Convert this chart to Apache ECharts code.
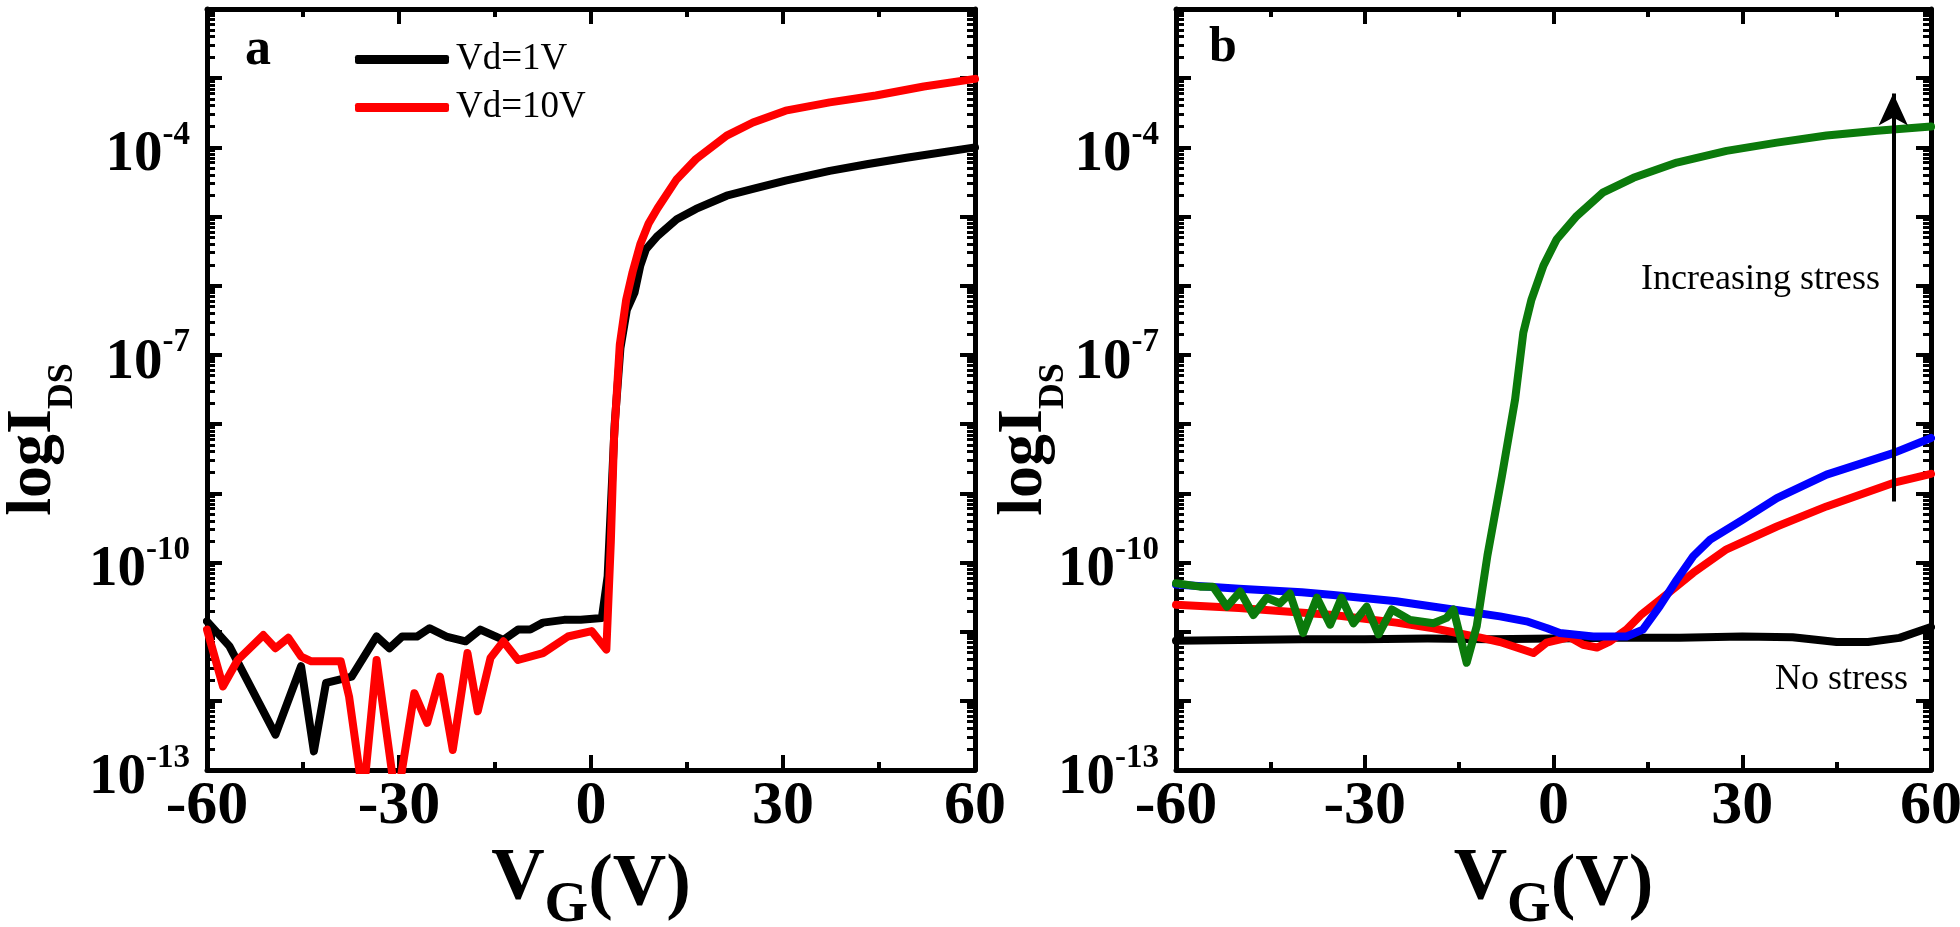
<!DOCTYPE html>
<html><head><meta charset="utf-8">
<script src="https://cdn.jsdelivr.net/npm/echarts@6.0.0/dist/echarts.min.js"></script>
<style>html,body{margin:0;padding:0;background:#fff}#c{width:1960px;height:927px}</style>
</head><body><div id="c"></div>
<script>
// ---------- tick labels ----------
const xTicks = [-60, -30, 0, 30, 60];
const yLabelExps = [-13, -10, -7, -4];

// ---------- panel a : transfer curves (V_G in V, I_DS in A) ----------
const aBlackV = [-60, -56.5, -49.3, -45.3, -43.3, -41.4, -37.4, -33.5, -31.5, -29.5, -27.2, -25.2, -22.6, -19.6, -17.3, -13.7, -11.4, -9.5, -7.5, -4.2, -1.6, 1.7, 2.6, 3.2, 3.7, 4.6, 5.6, 6.8, 7.7, 8.6, 10.4, 13.4, 16.4, 21.2, 25.3, 30.4, 37.3, 43.3, 49.3, 60];
const aBlackI = [1.41e-11, 6.17e-12, 3.24e-13, 3.16e-12, 1.86e-13, 1.82e-12, 2.24e-12, 8.51e-12, 5.75e-12, 8.51e-12, 8.5e-12, 1.12e-11, 8.5e-12, 7.24e-12, 1.07e-11, 7.59e-12, 1.07e-11, 1.07e-11, 1.35e-11, 1.48e-11, 1.48e-11, 1.58e-11, 6.3e-11, 1.0e-9, 1.0e-8, 1.26e-7, 4.47e-7, 7.94e-7, 1.95e-6, 3.39e-6, 5.25e-6, 9.12e-6, 1.29e-5, 2.0e-5, 2.51e-5, 3.31e-5, 4.57e-5, 5.75e-5, 7.08e-5, 1.0e-4];
const aRedV = [-60, -57.5, -55.2, -51.2, -49.3, -47.3, -45.3, -43.7, -39.1, -37.8, -35.6, -33.5, -30.4, -27.6, -25.6, -23.6, -21.6, -19.3, -17.7, -15.7, -13.7, -11.4, -7.5, -3.6, 0.1, 2.4, 3.1, 3.6, 4.5, 5.5, 6.5, 7.7, 9.0, 10.4, 13.4, 16.4, 21.2, 25.3, 30.4, 37.3, 44.5, 52, 60];
const aRedI = [1.07e-11, 1.62e-12, 3.89e-12, 8.91e-12, 5.75e-12, 8.13e-12, 4.37e-12, 3.72e-12, 3.72e-12, 1.15e-12, 3.98e-14, 3.89e-12, 3.16e-14, 1.29e-12, 4.79e-13, 2.24e-12, 1.95e-13, 4.9e-12, 7.08e-13, 4.17e-12, 7.24e-12, 3.89e-12, 4.9e-12, 8.51e-12, 1.02e-11, 5.5e-12, 2.0e-10, 6.3e-9, 1.41e-7, 6.31e-7, 1.58e-6, 3.98e-6, 7.94e-6, 1.32e-5, 3.47e-5, 6.76e-5, 1.48e-4, 2.29e-4, 3.39e-4, 4.47e-4, 5.62e-4, 7.59e-4, 9.77e-4];

// ---------- panel b : stress curves ----------
const bNoStressV = [-60, -50, -40, -30, -20, -10, 0, 10, 20, 30, 38, 45, 50, 55, 60];
const bNoStressI = [7.41e-12, 7.59e-12, 7.76e-12, 7.76e-12, 7.94e-12, 7.76e-12, 7.94e-12, 8.13e-12, 8.13e-12, 8.51e-12, 8.32e-12, 7.08e-12, 7.08e-12, 8.13e-12, 1.17e-11];
const bRedV = [-60, -50, -35, -25, -19.1, -12, -8.5, -3.2, -1.1, 2.6, 4.7, 6.9, 9.0, 11.6, 14.0, 16.9, 22.2, 27.5, 35.5, 43.4, 54.0, 60];
const bRedI = [2.45e-11, 2.19e-11, 1.74e-11, 1.35e-11, 1.12e-11, 8.32e-12, 7.08e-12, 4.9e-12, 6.92e-12, 8.32e-12, 6.46e-12, 5.89e-12, 7.24e-12, 1.07e-11, 1.78e-11, 2.88e-11, 7.08e-11, 1.55e-10, 3.31e-10, 6.46e-10, 1.41e-9, 1.91e-9];
const bBlueV = [-60, -50, -40, -35, -25, -13.8, -8.5, -4.3, -1.0, 1.0, 6.3, 11.6, 14.2, 16.9, 19.6, 22.2, 24.9, 30.1, 35.5, 43.4, 54.0, 60];
const bBlueI = [4.79e-11, 4.17e-11, 3.72e-11, 3.39e-11, 2.75e-11, 1.95e-11, 1.66e-11, 1.41e-11, 1.12e-11, 9.55e-12, 8.51e-12, 8.51e-12, 1.07e-11, 2.34e-11, 5.62e-11, 1.23e-10, 2.14e-10, 4.17e-10, 8.51e-10, 1.86e-9, 3.8e-9, 6.31e-9];
const bGreenV = [-60, -56.2, -54.1, -51.9, -49.8, -47.7, -45.6, -43.5, -41.9, -39.8, -37.6, -35.5, -33.7, -31.8, -29.7, -27.8, -25.7, -22.8, -19.1, -17.0, -15.9, -13.8, -12.2, -10.5, -8.2, -6.1, -4.8, -3.5, -1.6, 0.5, 3.7, 7.9, 12.7, 19.6, 27.5, 35.5, 43.4, 51.4, 60];
const bGreenI = [5.01e-11, 4.47e-11, 4.47e-11, 2.29e-11, 3.8e-11, 1.74e-11, 3.09e-11, 2.57e-11, 3.55e-11, 9.55e-12, 3.09e-11, 1.26e-11, 3.09e-11, 1.32e-11, 2.29e-11, 9.12e-12, 2.09e-11, 1.48e-11, 1.32e-11, 1.58e-11, 2.09e-11, 3.55e-12, 1.2e-11, 1.26e-10, 1.78e-9, 2.29e-8, 2.09e-7, 6.31e-7, 1.95e-6, 4.68e-6, 1.02e-5, 2.24e-5, 3.63e-5, 6.03e-5, 8.91e-5, 1.17e-4, 1.48e-4, 1.74e-4, 2.0e-4];

// arrow annotation (data coordinates)
const arrowV = 54;
const arrowFromI = 7.6e-10;
const arrowToI = 6.0e-4;

const FF = '"Liberation Serif", "Times New Roman", serif';
const zip = (xs, ys) => xs.map((x, i) => [x, ys[i]]);

function yFmt(v) {
  const e = Math.round(Math.log10(v));
  return yLabelExps.indexOf(e) >= 0 ? '{b|10}{s|' + e + '}' : '';
}
function xFmt(v) { return xTicks.indexOf(v) >= 0 ? String(v) : ''; }

function xAxisDef(grid, pos) {
  const bottom = pos === 'bottom';
  return {
    type: 'value', gridIndex: grid, position: pos, min: -60, max: 60, interval: 30,
    axisLine: { show: true, onZero: false, lineStyle: { color: '#000', width: 5 } },
    axisTick: { show: true, inside: true, length: 15, lineStyle: { color: '#000', width: 4 } },
    minorTick: { show: true, splitNumber: 2, length: 8, lineStyle: { color: '#000', width: 4 } },
    splitLine: { show: false }, minorSplitLine: { show: false },
    axisLabel: { show: bottom, margin: 6, formatter: xFmt, fontFamily: FF, fontWeight: 'bold', fontSize: 62, color: '#000' },
    name: bottom ? '{v|V}{g|G}{p|(V)}' : '',
    nameLocation: 'middle', nameGap: 73, nameMoveOverlap: false,
    nameTextStyle: {
      color: '#000', fontFamily: FF, fontWeight: 'bold',
      rich: {
        v: { fontFamily: FF, fontWeight: 'bold', fontSize: 74, lineHeight: 74, verticalAlign: 'top', color: '#000' },
        g: { fontFamily: FF, fontWeight: 'bold', fontSize: 56, lineHeight: 56, verticalAlign: 'top', padding: [36, 0, 0, 0], color: '#000' },
        p: { fontFamily: FF, fontWeight: 'bold', fontSize: 74, lineHeight: 74, verticalAlign: 'top', padding: [6, 0, 0, 0], color: '#000' }
      }
    }
  };
}
function yAxisDef(grid, pos, gap) {
  const left = pos === 'left';
  return {
    type: 'log', logBase: 10, gridIndex: grid, position: pos, min: 1e-13, max: 1e-2, interval: 1,
    axisLine: { show: true, onZero: false, lineStyle: { color: '#000', width: 5 } },
    axisTick: { show: true, inside: true, interval: 0, length: 15, lineStyle: { color: '#000', width: 4 } },
    minorTick: { show: true, splitNumber: 9, length: 8, lineStyle: { color: '#000', width: 3 } },
    splitLine: { show: false }, minorSplitLine: { show: false },
    axisLabel: {
      show: left, interval: 0, margin: 17, formatter: yFmt, color: '#000',
      rich: {
        b: { fontFamily: FF, fontWeight: 'bold', fontSize: 57, lineHeight: 57, verticalAlign: 'top', padding: [8, 0, 0, 0], color: '#000' },
        s: { fontFamily: FF, fontWeight: 'bold', fontSize: 33, lineHeight: 33, verticalAlign: 'top', color: '#000' }
      }
    },
    name: left ? '{a|logI}{d|DS}' : '',
    nameLocation: 'middle', nameRotate: 90, nameGap: gap, nameMoveOverlap: false,
    nameTextStyle: {
      color: '#000', padding: [0, 100, 0, 0],
      rich: {
        a: { fontFamily: FF, fontWeight: 'bold', fontSize: 64, lineHeight: 64, verticalAlign: 'top', color: '#000' },
        d: { fontFamily: FF, fontWeight: 'bold', fontSize: 36, lineHeight: 36, verticalAlign: 'top', padding: [44, 0, 0, 0], color: '#000' }
      }
    }
  };
}

const lineSeries = (name, xi, yi, data, color) => ({
  name, type: 'line', xAxisIndex: xi, yAxisIndex: yi, data,
  showSymbol: false, symbol: 'none', clip: true, animation: false,
  lineStyle: { color, width: 8, join: 'round', cap: 'round' }, itemStyle: { color }
});

const chart = echarts.init(document.getElementById('c'), null, { renderer: 'canvas' });
const greenSeries = lineSeries('Stress 3', 2, 2, zip(bGreenV, bGreenI), '#0b7a0b');
greenSeries.markLine = {
  silent: true, animation: false, symbol: ['none', 'arrow'], symbolSize: [22, 32],
  label: { show: false },
  lineStyle: { color: '#000', width: 4, type: 'solid' },
  data: [[{ coord: [arrowV, arrowFromI] }, { coord: [arrowV, arrowToI] }]]
};

chart.setOption({
  backgroundColor: '#fff',
  animation: false,
  title: [
    { text: 'a', left: 240, top: 20, textStyle: { fontFamily: FF, fontWeight: 'bold', fontSize: 52, color: '#000' } },
    { text: 'b', left: 1204, top: 18, textStyle: { fontFamily: FF, fontWeight: 'bold', fontSize: 50, color: '#000' } }
  ],
  legend: {
    data: ['Vd=1V', 'Vd=10V'], orient: 'vertical', left: 350, top: 36, itemGap: 11,
    itemWidth: 94, itemHeight: 9, icon: 'roundRect',
    textStyle: { fontFamily: FF, fontSize: 37, color: '#000', padding: [0, 0, 0, 2] }
  },
  grid: [
    { left: 207, top: 9, width: 768, height: 761, containLabel: false, outerBoundsMode: 'none' },
    { left: 1176, top: 9, width: 755, height: 761, containLabel: false, outerBoundsMode: 'none' }
  ],
  xAxis: [xAxisDef(0, 'bottom'), xAxisDef(0, 'top'), xAxisDef(1, 'bottom'), xAxisDef(1, 'top')],
  yAxis: [yAxisDef(0, 'left', 142), yAxisDef(0, 'right', 0), yAxisDef(1, 'left', 120), yAxisDef(1, 'right', 0)],
  graphic: [
    { type: 'text', right: 1960 - 1880, top: 262, style: { text: 'Increasing stress', fontFamily: FF, fontSize: 36, fill: '#000' } },
    { type: 'text', right: 1960 - 1908, top: 662, style: { text: 'No stress', fontFamily: FF, fontSize: 36, fill: '#000' } }
  ],
  series: [
    lineSeries('Vd=1V', 0, 0, zip(aBlackV, aBlackI), '#000000'),
    lineSeries('Vd=10V', 0, 0, zip(aRedV, aRedI), '#ff0000'),
    lineSeries('No stress', 2, 2, zip(bNoStressV, bNoStressI), '#000000'),
    lineSeries('Stress 1', 2, 2, zip(bRedV, bRedI), '#ff0000'),
    lineSeries('Stress 2', 2, 2, zip(bBlueV, bBlueI), '#0000ff'),
    greenSeries
  ]
});
</script></body></html>
